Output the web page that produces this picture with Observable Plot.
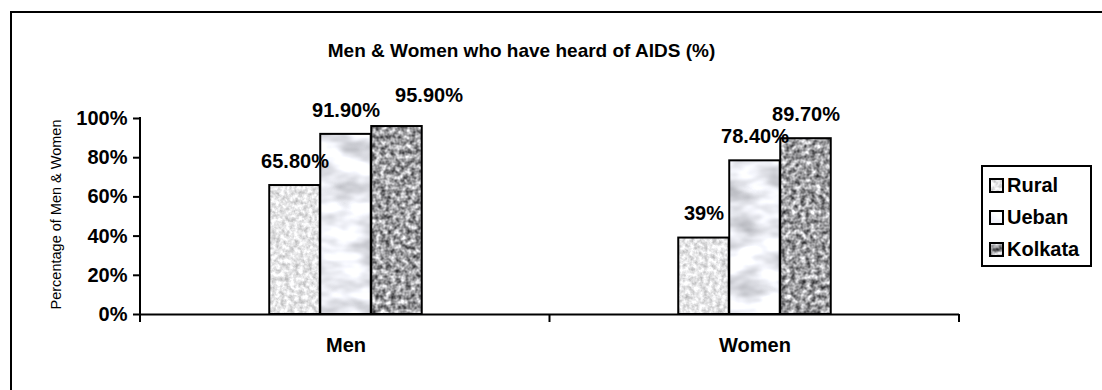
<!DOCTYPE html>
<html>
<head>
<meta charset="utf-8">
<script src="https://cdn.jsdelivr.net/npm/d3@7"></script>
<script src="https://cdn.jsdelivr.net/npm/@observablehq/plot@0.6"></script>
<style>
  body { margin: 0; background: #fff; font-family: "Liberation Sans", Arial, sans-serif; }
  #wrap { position: relative; width: 1102px; height: 390px; overflow: hidden; background: #fff; }
  #frame { position: absolute; left: 10px; top: 11px; width: 1300px; height: 600px; border-top: 2px solid #000; border-left: 2px solid #000; }
  #title { position: absolute; left: 0; width: 1043px; top: 41px; text-align: center; font-weight: bold; font-size: 19px; line-height: 19px; color: #000; }
  #chart { position: absolute; left: 0; top: 0; }
  #legend { position: absolute; left: 981px; top: 165px; width: 107px; height: 98px; border: 2px solid #000; background: #fff; }
  .row { position: absolute; left: 0; height: 24px; line-height: 24px; font-weight: bold; font-size: 20px; white-space: nowrap; }
  .row svg { position: absolute; left: 6px; top: 5px; }
  .row span { position: absolute; left: 24px; top: 0; }
</style>
</head>
<body>
<svg width="0" height="0" style="position:absolute">
  <defs>
    <filter id="fRural" x="0" y="0" width="100%" height="100%" color-interpolation-filters="sRGB">
      <feTurbulence type="fractalNoise" baseFrequency="0.22" numOctaves="3" seed="3"/>
      <feColorMatrix type="matrix" values="0.5 0 0 0 0.65  0.5 0 0 0 0.65  0.5 0 0 0 0.655  0 0 0 0 1"/>
    </filter>
    <filter id="fUeban" x="0" y="0" width="100%" height="100%" color-interpolation-filters="sRGB">
      <feTurbulence type="fractalNoise" baseFrequency="0.025 0.05" numOctaves="3" seed="8"/>
      <feColorMatrix type="matrix" values="0.6 0 0 0 0.63  0.6 0 0 0 0.635  0.6 0 0 0 0.66  0 0 0 0 1"/>
    </filter>
    <filter id="fKolkata" x="0" y="0" width="100%" height="100%" color-interpolation-filters="sRGB">
      <feTurbulence type="fractalNoise" baseFrequency="0.2" numOctaves="2" seed="5"/>
      <feColorMatrix type="matrix" values="1.25 0 0 0 0.0  1.25 0 0 0 0.0  1.25 0 0 0 0.01  0 0 0 0 1"/>
    </filter>
    <pattern id="pRural" patternUnits="userSpaceOnUse" width="1200" height="400"><rect width="1200" height="400" fill="#e8e8e8" filter="url(#fRural)"/></pattern>
    <pattern id="pUeban" patternUnits="userSpaceOnUse" width="1200" height="400"><rect width="1200" height="400" fill="#ececf0" filter="url(#fUeban)"/></pattern>
    <pattern id="pKolkata" patternUnits="userSpaceOnUse" width="1200" height="400"><rect width="1200" height="400" fill="#a0a0a0" filter="url(#fKolkata)"/></pattern>
  </defs>
</svg>
<div id="wrap">
  <div id="frame"></div>
  <div id="chart"></div>
  <div id="title"></div>
  <div id="legend"></div>
</div>
<script>
// ---- data ----
const categories = ["Men", "Women"];
const series = ["Rural", "Ueban", "Kolkata"];
const rural = [65.8, 39];
const ueban = [91.9, 78.4];
const kolkata = [95.9, 89.7];
const yTicks = [0, 20, 40, 60, 80, 100];
const titleText = "Men & Women who have heard of AIDS (%)";
const yLabel = "Percentage of Men & Women";

// ---- table ----
const seriesValues = {Rural: rural, Ueban: ueban, Kolkata: kolkata};
const data = series.flatMap(s => categories.map((c, i) => ({category: c, series: s, value: seriesValues[s][i]})));

// ---- layout / style ----
const W = 1102, H = 390, mL = 140, mR = 143, mT = 118, mB = 76;
const bw = (W - mL - mR) / categories.length;
const barW = 51;
const inset = (bw - barW) / 2;
const offsets = {Rural: -barW, Ueban: 0, Kolkata: barW};
const fills = ["url(#pRural)", "url(#pUeban)", "url(#pKolkata)"];
const nudged = d => d.category === "Men" && d.series === "Kolkata";
const fmt = v => (Number.isInteger(v) ? String(v) : v.toFixed(2)) + "%";

const marks = [];
series.forEach(s => {
  const d = data.filter(r => r.series === s);
  marks.push(Plot.barY(d, {
    x: "category", y: "value", fill: "series",
    stroke: "#000", strokeWidth: 2,
    insetLeft: inset, insetRight: inset, dx: offsets[s]
  }));
});
series.forEach(s => {
  const d = data.filter(r => r.series === s && !nudged(r));
  marks.push(Plot.text(d, {
    x: "category", y: "value", text: r => fmt(r.value),
    dx: offsets[s], dy: -24, fontSize: 20, fontWeight: "bold", fill: "#000"
  }));
});
marks.push(Plot.text(data.filter(nudged), {
  x: "category", y: "value", text: r => fmt(r.value),
  dx: offsets.Kolkata + 32, dy: -31, fontSize: 20, fontWeight: "bold", fill: "#000"
}));

marks.push(Plot.ruleY([0], {stroke: "#000", strokeWidth: 2}));
// y axis line + x boundary ticks
marks.push((index, scales, values, dims) => {
  const g = d3.create("svg:g").attr("stroke", "#000").attr("stroke-width", 2);
  const x0 = dims.marginLeft, x1 = dims.width - dims.marginRight;
  const yt = dims.marginTop, yb = dims.height - dims.marginBottom;
  g.append("line").attr("x1", x0).attr("x2", x0).attr("y1", yt - 1).attr("y2", yb);
  const n = categories.length;
  for (let k = 0; k <= n; k++) {
    const x = x0 + (x1 - x0) * k / n;
    g.append("line").attr("x1", x).attr("x2", x).attr("y1", yb).attr("y2", yb + 8);
  }
  return g.node();
});
marks.push(Plot.axisY(yTicks, {
  tickFormat: d => d + "%", tickSize: 7, tickPadding: 6, strokeWidth: 2,
  fontSize: 20, fontWeight: "bold", label: null, stroke: "#000", color: "#000"
}));
marks.push(Plot.axisX({
  tickSize: 0, tickPadding: 23, fontSize: 20, fontWeight: "bold", label: null
}));
marks.push(Plot.text([yLabel], {
  text: d => d, frameAnchor: "left", textAnchor: "middle", rotate: -90, dx: -84, dy: -2,
  fontSize: 14.5, fontWeight: "normal", fill: "#000"
}));

const chart = Plot.plot({
  width: W, height: H,
  marginLeft: mL, marginRight: mR, marginTop: mT, marginBottom: mB,
  style: {background: "none", fontFamily: "'Liberation Sans', Arial, sans-serif", fontSize: "20px", color: "#000", overflow: "visible"},
  x: {type: "band", domain: categories, padding: 0, axis: null},
  y: {domain: [0, 100], axis: null},
  color: {domain: series, range: fills},
  marks
});
document.getElementById("chart").appendChild(chart);
document.getElementById("title").textContent = titleText;

const legend = document.getElementById("legend");
series.forEach((s, i) => {
  const row = document.createElement("div");
  row.className = "row";
  row.style.top = (6 + 32 * i) + "px";
  row.innerHTML = `<svg width="15" height="15"><rect x="1" y="1" width="13" height="13" fill="${fills[i]}" stroke="#000" stroke-width="2"/></svg><span></span>`;
  row.querySelector("span").textContent = s;
  legend.appendChild(row);
});
</script>
</body>
</html>
